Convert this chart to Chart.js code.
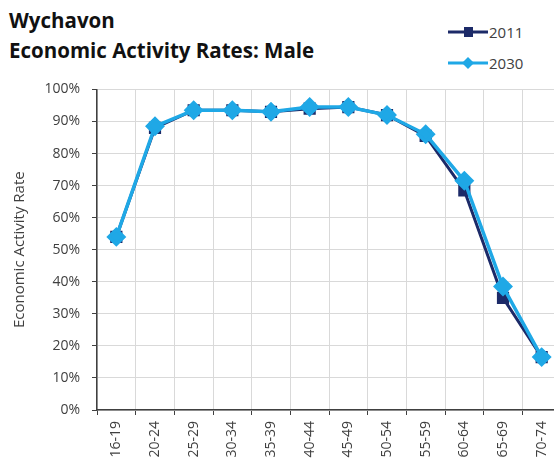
<!DOCTYPE html>
<html lang="en">
<head>
  <meta charset="UTF-8" />
  <title>Wychavon Economic Activity Rates: Male</title>
  <style>
    body { margin: 0; background: #fff; width: 554px; height: 468px; overflow: hidden; position: relative; font-family: "Open Sans", sans-serif; }
    .title { position: absolute; left: 9px; top: 5px; font-weight: bold; font-size: 20.5px; line-height: 30px; color: #111; }
    .legend { position: absolute; left: 448px; top: 16px; font-size: 15px; color: #404040; }
    .legend div { height: 31px; display: flex; align-items: center; }
    .legend svg { margin-right: 1px; }
    #wrap { position: absolute; left: 0; top: 69px; width: 572px; height: 399px; }
  </style>
  <script src="https://cdn.jsdelivr.net/npm/chart.js"></script>
</head>
<body>
  <div class="title">Wychavon<br>Economic Activity Rates: Male</div>
  <div class="legend">
    <div><svg width="40" height="14"><line x1="0" y1="7" x2="40" y2="7" stroke="#1c2a68" stroke-width="3"/><rect x="16" y="2" width="9" height="10" fill="#1c2a68"/></svg>2011</div>
    <div><svg width="40" height="14"><line x1="0" y1="7" x2="40" y2="7" stroke="#1fa8e6" stroke-width="3"/><polygon points="20,1 26,7 20,13 14,7" fill="#1fa8e6"/></svg>2030</div>
  </div>
  <div id="wrap"><canvas id="chart"></canvas></div>

  <script>
    const ageGroups = ['16-19', '20-24', '25-29', '30-34', '35-39', '40-44', '45-49', '50-54', '55-59', '60-64', '65-69', '70-74'];
    const rates2011 = [54, 88, 93.5, 93.5, 93, 94, 94.5, 92, 85.5, 68.5, 35, 16.5];
    const rates2030 = [54, 88.5, 93.5, 93.5, 93, 94.5, 94.5, 92, 86, 71.5, 38.5, 16.5];
    const yTicks = [0, 10, 20, 30, 40, 50, 60, 70, 80, 90, 100];

    const tickFont = { family: 'Open Sans', size: 14 };

    new Chart(document.getElementById('chart'), {
      type: 'line',
      data: {
        labels: ageGroups,
        datasets: [
          {
            label: '2011', data: rates2011, order: 1,
            borderColor: '#1c2a68', backgroundColor: '#1c2a68',
            borderWidth: 3, pointStyle: 'rect', pointRadius: 6.5, pointHoverRadius: 6.5,
          },
          {
            label: '2030', data: rates2030, order: 0,
            borderColor: '#1fa8e6', backgroundColor: '#1fa8e6',
            borderWidth: 3.5, pointStyle: 'rectRot', pointRadius: 7.5, pointHoverRadius: 7.5,
          },
        ],
      },
      options: {
        responsive: true,
        maintainAspectRatio: false,
        animation: false,
        layout: { padding: { top: 8, left: 0, right: 0, bottom: 0 } },
        plugins: { legend: { display: false }, tooltip: { enabled: false } },
        scales: {
          x: {
            offset: true,
            afterFit: s => { s.height = 58; },
            grid: { color: '#d9d9d9', offset: true, tickLength: 5, tickColor: '#404040' },
            border: { color: '#404040', width: 1.5 },
            ticks: { color: '#404040', font: tickFont, minRotation: 90, maxRotation: 90, padding: 6 },
          },
          y: {
            min: 0, max: 100,
            afterFit: s => { s.width = 97; },
            afterBuildTicks: s => { s.ticks = yTicks.map(v => ({ value: v })); },
            grid: { color: '#d9d9d9', tickLength: 5, tickColor: '#404040' },
            border: { color: '#404040', width: 1.5 },
            title: { display: true, text: 'Economic Activity Rate', color: '#404040', font: { family: 'Open Sans', size: 15 }, padding: { top: 11, bottom: 0 } },
            ticks: { color: '#404040', font: tickFont, padding: 12, callback: v => v + '%' },
          },
        },
      },
    });
  </script>
</body>
</html>
